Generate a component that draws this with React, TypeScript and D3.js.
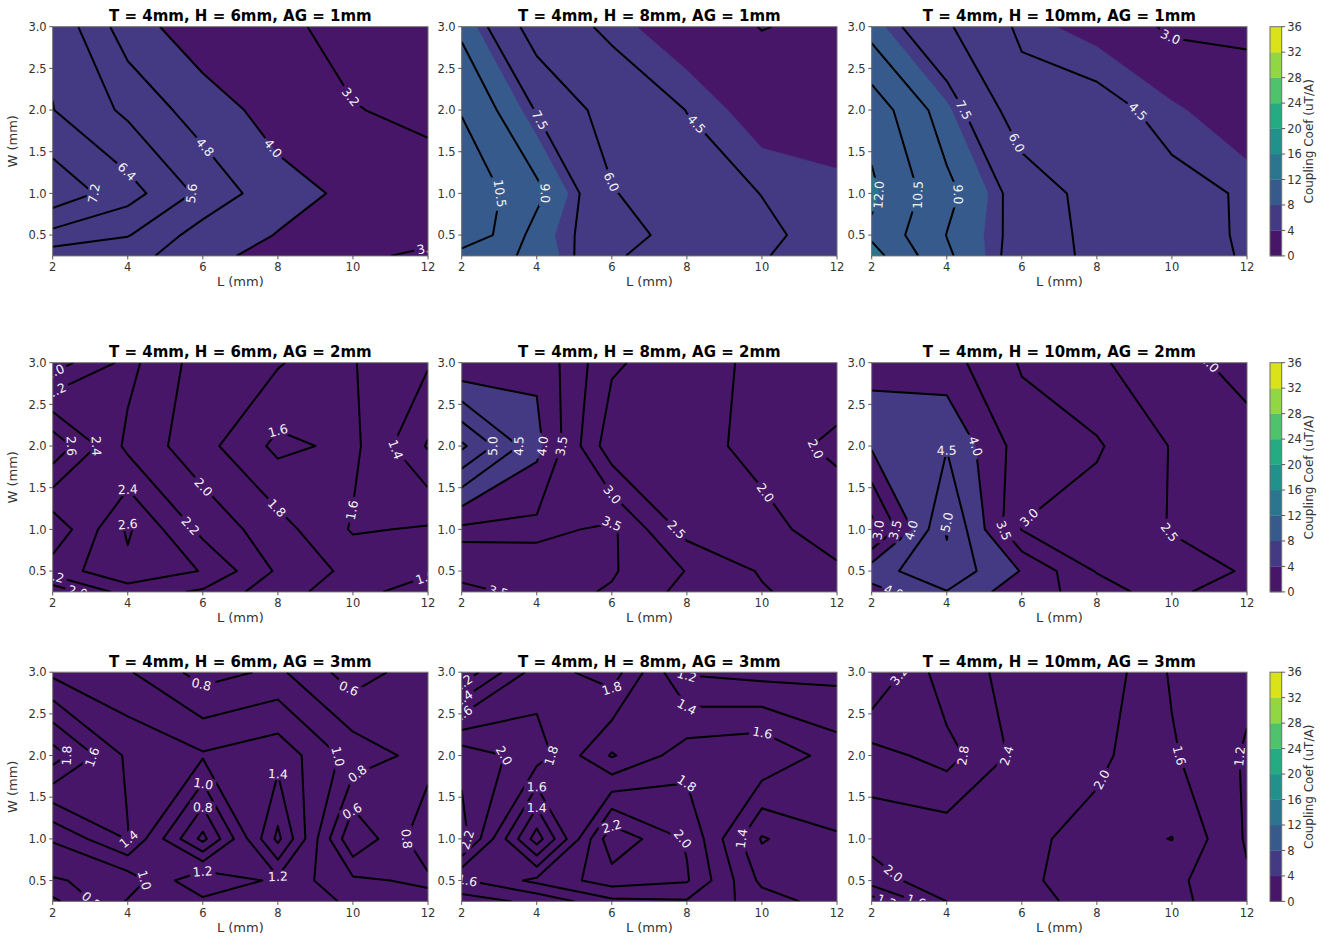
import React from "react";
import * as d3 from "d3";

// ---------------- data ----------------
const L_VALUES = [2, 4, 6, 8, 10, 12];
const W_VALUES = [0.25, 0.5, 1.0, 2.0, 3.0];
const X_TICKS = [2, 4, 6, 8, 10, 12];
const Y_TICKS = [0.5, 1.0, 1.5, 2.0, 2.5, 3.0];
const FILL_LEVELS = [0, 4, 8, 12, 16, 20, 24, 28, 32, 36];
const CB_TICKS = [0, 4, 8, 12, 16, 20, 24, 28, 32, 36];
const H_VALUES = [6, 8, 10];
const AG_VALUES = [1, 2, 3];

// grids: one row per W value (0.25, 0.5, 1, 2, 3), one column per L value (2..12)
const Z_H6_AG1 = [
  [5.17, 5.0, 4.45, 3.45, 3.3, 3.1],
  [6.15, 5.65, 4.44, 3.97, 3.6, 3.35],
  [7.77, 6.73, 5.4, 4.27, 3.85, 3.5],
  [6.42, 5.43, 4.38, 3.69, 3.23, 3.05],
  [6.24, 4.36, 3.52, 3.35, 2.97, 2.75],
];
const Z_H8_AG1 = [
  [9.68, 8.75, 6.25, 4.9, 4.55, 4.1],
  [11.95, 8.46, 6.56, 5.48, 4.7, 4.1],
  [11.68, 9.37, 6.1, 5.0, 4.48, 4.3],
  [10.4, 7.4, 5.33, 4.48, 3.6, 3.3],
  [8.69, 5.24, 4.26, 3.48, 2.97, 3.2],
];
const Z_H10_AG1 = [
  [12.59, 9.22, 6.85, 5.65, 5.0, 4.4],
  [11.73, 8.97, 7.0, 5.52, 5.0, 4.35],
  [12.29, 9.4, 6.86, 5.43, 4.8, 4.4],
  [11.43, 8.21, 5.1, 4.9, 4.15, 3.4],
  [8.4, 6.17, 4.24, 3.72, 2.82, 2.85],
];
const Z_H6_AG2 = [
  [1.85, 2.3, 2.17, 1.87, 1.7, 1.45],
  [2.3, 2.55, 2.39, 1.97, 1.74, 1.65],
  [2.05, 2.63, 2.14, 1.88, 1.58, 1.62],
  [2.75, 2.15, 1.87, 1.55, 1.65, 1.18],
  [1.9, 2.26, 1.9, 1.82, 1.61, 1.42],
];
const Z_H8_AG2 = [
  [3.3, 3.7, 3.45, 2.84, 2.55, 2.2],
  [3.75, 3.8, 3.55, 2.98, 2.45, 2.05],
  [3.39, 3.36, 3.6, 2.32, 2.1, 1.85],
  [5.6, 4.15, 2.18, 2.12, 1.9, 2.05],
  [3.55, 3.9, 2.58, 2.18, 1.9, 1.85],
];
const Z_H10_AG2 = [
  [3.8, 4.48, 3.68, 3.33, 2.61, 2.2],
  [4.3, 4.85, 3.97, 2.96, 2.65, 2.47],
  [2.78, 5.05, 2.98, 2.75, 2.48, 2.3],
  [4.06, 4.47, 3.25, 3.06, 2.47, 2.2],
  [3.97, 3.7, 2.95, 2.57, 2.19, 1.81],
];
const Z_H6_AG3 = [
  [0.55, 1.02, 1.15, 1.08, 0.98, 0.87],
  [0.78, 0.88, 1.39, 1.15, 0.84, 0.76],
  [1.02, 1.41, 0.54, 1.65, 0.42, 0.95],
  [1.9, 1.36, 1.225, 1.33, 0.92, 0.72],
  [1.15, 1.02, 0.72, 0.84, 0.5, 0.72],
];
const Z_H8_AG3 = [
  [1.3, 1.45, 1.75, 1.78, 1.5, 1.3],
  [1.58, 1.85, 2.1, 2.02, 1.35, 1.3],
  [2.3, 1.1, 2.35, 1.98, 1.18, 1.39],
  [2.13, 1.9, 1.38, 1.71, 1.78, 1.5],
  [1.05, 1.7, 1.9, 1.18, 1.13, 1.14],
];
const Z_H10_AG3 = [
  [1.0, 2.0, 2.1, 1.9, 1.72, 1.3],
  [1.79, 2.3, 2.1, 1.75, 1.7, 1.25],
  [2.15, 2.15, 2.1, 1.85, 2.01, 1.15],
  [2.65, 2.95, 2.26, 2.1, 1.65, 1.15],
  [3.65, 2.53, 2.3, 2.3, 1.55, 1.3],
];

// contour line levels
const LV_H6_AG1 = [2.4, 3.2, 4.0, 4.8, 5.6, 6.4, 7.2, 8.0];
const LV_H8_AG1 = [3.0, 4.5, 6.0, 7.5, 9.0, 10.5, 12.0];
const LV_H10_AG1 = [3.0, 4.5, 6.0, 7.5, 9.0, 10.5, 12.0];
const LV_H6_AG2 = [1.2, 1.4, 1.6, 1.8, 2.0, 2.2, 2.4, 2.6];
const LV_H8_AG2 = [2.0, 2.5, 3.0, 3.5, 4.0, 4.5, 5.0, 5.5];
const LV_H10_AG2 = [2.0, 2.5, 3.0, 3.5, 4.0, 4.5, 5.0];
const LV_H6_AG3 = [0.6, 0.8, 1.0, 1.2, 1.4, 1.6, 1.8];
const LV_H8_AG3 = [1.2, 1.4, 1.6, 1.8, 2.0, 2.2, 2.4, 2.6];
const LV_H10_AG3 = [1.2, 1.6, 2.0, 2.4, 2.8, 3.2];

// inline contour labels: [level, L, W] (approximate anchor, snapped onto the line)
const LB_H6_AG1 = [[7.2, 3.1, 1.0], [6.4, 4.05, 1.3], [5.6, 5.7, 1.0], [4.8, 6.05, 1.55], [4.0, 8.05, 1.6], [3.2, 10.1, 2.2], [3.2, 11.95, 0.38]];
const LB_H8_AG1 = [[10.5, 3.02, 1.0], [9.0, 4.22, 1.0], [7.5, 4.0, 1.86], [6.0, 6.0, 1.14], [4.5, 8.05, 1.75]];
const LB_H10_AG1 = [[12.0, 2.2, 0.98], [10.5, 3.24, 0.98], [9.0, 4.36, 0.98], [7.5, 4.53, 2.02], [6.0, 6.0, 1.64], [4.5, 9.2, 2.02], [3.0, 10.0, 2.9]];
const LB_H6_AG2 = [[2.0, 2.08, 2.86], [2.2, 2.08, 2.68], [2.6, 2.55, 2.0], [2.4, 3.25, 2.0], [2.4, 4.0, 1.52], [2.6, 4.0, 1.12], [2.0, 6.0, 1.5], [2.2, 5.74, 1.07], [1.8, 8.1, 1.31], [1.6, 8.0, 2.2], [1.6, 10.0, 1.23], [1.4, 11.25, 2.0], [2.2, 2.05, 0.45], [2.0, 2.8, 0.27], [1.6, 11.9, 0.47]];
const LB_H8_AG2 = [[5.0, 2.89, 2.0], [4.5, 3.64, 2.0], [4.0, 4.22, 1.99], [3.5, 4.71, 2.0], [3.5, 6.0, 1.07], [3.5, 3.0, 0.29], [3.0, 6.0, 1.41], [2.5, 7.73, 1.0], [2.0, 10.0, 1.41], [2.0, 11.5, 2.0]];
const LB_H10_AG2 = [[4.5, 4.0, 2.07], [4.0, 4.8, 2.0], [5.0, 4.0, 1.2], [3.0, 2.2, 0.98], [3.5, 2.65, 0.98], [4.0, 3.07, 0.98], [3.5, 5.56, 1.0], [3.0, 6.0, 1.25], [2.5, 10.0, 1.0], [2.0, 11.0, 2.99], [4.0, 2.76, 0.28]];
const LB_H6_AG3 = [[0.8, 6.0, 2.88], [0.6, 10.0, 2.86], [1.8, 2.42, 1.98], [1.6, 3.05, 1.98], [1.0, 9.6, 1.99], [0.8, 10.15, 1.75], [1.0, 6.0, 1.66], [1.4, 8.0, 1.78], [0.8, 6.0, 1.38], [0.6, 10.0, 1.33], [1.4, 4.2, 1.0], [0.8, 11.3, 0.99], [1.0, 4.46, 0.52], [1.2, 6.0, 0.6], [1.2, 8.0, 0.55], [0.8, 3.1, 0.3]];
const LB_H8_AG3 = [[1.8, 6.0, 2.8], [1.2, 8.0, 2.96], [1.4, 8.0, 2.58], [1.6, 10.04, 2.3], [2.0, 3.33, 2.03], [1.8, 4.4, 2.0], [1.6, 4.0, 1.63], [1.4, 4.0, 1.38], [1.8, 8.0, 1.69], [2.2, 6.0, 1.15], [2.0, 7.95, 1.04], [1.4, 9.47, 1.0], [2.2, 2.12, 1.0], [1.6, 2.15, 0.5], [1.2, 2.05, 2.86], [1.4, 2.05, 2.68], [1.6, 2.05, 2.49]];
const LB_H10_AG3 = [[3.2, 2.75, 2.95], [2.8, 4.49, 1.99], [2.4, 5.65, 1.99], [2.0, 7.96, 1.75], [1.6, 10.2, 2.0], [1.2, 11.78, 1.99], [2.0, 2.44, 0.51], [1.2, 2.6, 0.27], [1.6, 3.2, 0.27]];

const PANELS = [
  { z: Z_H6_AG1, levels: LV_H6_AG1, labels: LB_H6_AG1 },
  { z: Z_H8_AG1, levels: LV_H8_AG1, labels: LB_H8_AG1 },
  { z: Z_H10_AG1, levels: LV_H10_AG1, labels: LB_H10_AG1 },
  { z: Z_H6_AG2, levels: LV_H6_AG2, labels: LB_H6_AG2 },
  { z: Z_H8_AG2, levels: LV_H8_AG2, labels: LB_H8_AG2 },
  { z: Z_H10_AG2, levels: LV_H10_AG2, labels: LB_H10_AG2 },
  { z: Z_H6_AG3, levels: LV_H6_AG3, labels: LB_H6_AG3 },
  { z: Z_H8_AG3, levels: LV_H8_AG3, labels: LB_H8_AG3 },
  { z: Z_H10_AG3, levels: LV_H10_AG3, labels: LB_H10_AG3 },
];

// ---------------- layout ----------------
const COL_X = [52.7, 461.7, 871.7];
const ROW_Y = [26.7, 362.7, 672.2];
const PW = 375.3;
const PH = 229.2;
const CB_X = 1270;
const CB_W = 11.7;
const FONT = "DejaVu Sans, Verdana, sans-serif";
const TICK_COLOR = "#333";
const SPINE = "#6f6f6f";
const LABEL_FS = 12.5;
const TICK_FS = 11.5;

function interp(arr, idx) {
  const i = Math.max(0, Math.min(arr.length - 2, Math.floor(idx)));
  return arr[i] + (arr[i + 1] - arr[i]) * (idx - i);
}

function textWidth(s, fs) {
  let w = 0;
  for (const ch of s) w += ch === "." ? 0.318 : 0.636;
  return w * fs;
}

// marching squares on the coarse grid (linear interpolation on edges,
// saddles resolved with the cell-centre average), returns chains in data space
function contourLines(z, level) {
  const nx = L_VALUES.length;
  const ny = W_VALUES.length;
  const pts = new Map();
  const adj = new Map();
  const hKey = (i, j) => `h${i},${j}`;
  const vKey = (i, j) => `v${i},${j}`;
  const hPt = (i, j) => {
    const a = z[j][i];
    const b = z[j][i + 1];
    const t = (level - a) / (b - a);
    return [L_VALUES[i] + t * (L_VALUES[i + 1] - L_VALUES[i]), W_VALUES[j]];
  };
  const vPt = (i, j) => {
    const a = z[j][i];
    const b = z[j + 1][i];
    const t = (level - a) / (b - a);
    return [L_VALUES[i], W_VALUES[j] + t * (W_VALUES[j + 1] - W_VALUES[j])];
  };
  const link = (a, b) => {
    if (!adj.has(a.k)) adj.set(a.k, []);
    if (!adj.has(b.k)) adj.set(b.k, []);
    adj.get(a.k).push(b.k);
    adj.get(b.k).push(a.k);
    pts.set(a.k, a.p);
    pts.set(b.k, b.p);
  };
  const up = (v) => v >= level;
  for (let j = 0; j < ny - 1; j++) {
    for (let i = 0; i < nx - 1; i++) {
      const z00 = z[j][i];
      const z10 = z[j][i + 1];
      const z01 = z[j + 1][i];
      const z11 = z[j + 1][i + 1];
      const B = up(z00) !== up(z10) ? { k: hKey(i, j), p: hPt(i, j) } : null;
      const R = up(z10) !== up(z11) ? { k: vKey(i + 1, j), p: vPt(i + 1, j) } : null;
      const T = up(z01) !== up(z11) ? { k: hKey(i, j + 1), p: hPt(i, j + 1) } : null;
      const Lf = up(z00) !== up(z01) ? { k: vKey(i, j), p: vPt(i, j) } : null;
      const list = [B, R, T, Lf].filter(Boolean);
      if (list.length === 2) {
        link(list[0], list[1]);
      } else if (list.length === 4) {
        const centerUp = up((z00 + z10 + z01 + z11) / 4);
        if (up(z00) !== centerUp) {
          link(B, Lf);
          link(R, T);
        } else {
          link(B, R);
          link(T, Lf);
        }
      }
    }
  }
  const visited = new Set();
  const chains = [];
  const walk = (start) => {
    const chain = [start];
    visited.add(start);
    let cur = start;
    for (;;) {
      const nb = adj.get(cur).filter((k) => !visited.has(k));
      if (!nb.length) break;
      cur = nb[0];
      visited.add(cur);
      chain.push(cur);
    }
    return chain.map((k) => pts.get(k));
  };
  for (const k of adj.keys()) {
    if (adj.get(k).length === 1 && !visited.has(k)) chains.push({ pts: walk(k), closed: false });
  }
  for (const k of adj.keys()) {
    if (!visited.has(k)) chains.push({ pts: walk(k), closed: true });
  }
  return chains;
}

// point at arc length s on a polyline (with cumulative lengths)
function pointAt(P, cum, s) {
  const total = cum[cum.length - 1];
  s = Math.max(0, Math.min(total, s));
  let i = 0;
  while (i < cum.length - 2 && cum[i + 1] < s) i++;
  const seg = cum[i + 1] - cum[i];
  const u = seg > 0 ? (s - cum[i]) / seg : 0;
  return { x: P[i].x + u * (P[i + 1].x - P[i].x), y: P[i].y + u * (P[i + 1].y - P[i].y) };
}

function Panel({ p, idx }) {
  const col = idx % 3;
  const row = Math.floor(idx / 3);
  const x0 = COL_X[col];
  const y0 = ROW_Y[row];
  const xs = d3.scaleLinear().domain([2, 12]).range([x0, x0 + PW]);
  const ys = d3.scaleLinear().domain([0.25, 3]).range([y0 + PH, y0]);
  const nx = L_VALUES.length;
  const ny = W_VALUES.length;
  const flat = p.z.flat();
  const gen = d3.contours().size([nx, ny]).smooth(true);

  const mapPt = (pt) => {
    const ix = Math.max(0, Math.min(nx - 1, pt[0] - 0.5));
    const iy = Math.max(0, Math.min(ny - 1, pt[1] - 0.5));
    return [xs(interp(L_VALUES, ix)), ys(interp(W_VALUES, iy))];
  };

  const fills = [];
  for (let k = 0; k < FILL_LEVELS.length - 1; k++) {
    const t = FILL_LEVELS[k];
    const geo = gen.contour(flat, t);
    let d = "";
    for (const poly of geo.coordinates) {
      for (const ring of poly) {
        const q = ring.map(mapPt);
        if (q.length < 3) continue;
        d += "M" + q.map((v) => v[0].toFixed(2) + "," + v[1].toFixed(2)).join("L") + "Z";
      }
    }
    if (d) {
      const mid = (FILL_LEVELS[k] + FILL_LEVELS[k + 1]) / 2;
      fills.push({ d, color: d3.interpolateViridis(mid / 36) });
    }
  }

  const lineSets = p.levels.map((level) => {
    const chains = contourLines(p.z, level).map((c) => ({
      closed: c.closed,
      pts: c.pts.map(([L, W]) => ({ x: xs(L), y: ys(W) })),
    }));
    return { level, polylines: chains };
  });

  const labels = [];
  for (const [level, L, W] of p.labels) {
    const set = lineSets.find((s) => Math.abs(s.level - level) < 1e-9);
    if (!set) continue;
    const text = level.toFixed(1);
    const w = textWidth(text, LABEL_FS);
    const tx = xs(L);
    const ty = ys(W);
    let best = null;
    for (const pl of set.polylines) {
      const P = pl.closed ? pl.pts.concat([pl.pts[0]]) : pl.pts;
      const cum = [0];
      for (let i = 0; i < P.length - 1; i++) {
        cum.push(cum[i] + Math.hypot(P[i + 1].x - P[i].x, P[i + 1].y - P[i].y));
      }
      for (let i = 0; i < P.length - 1; i++) {
        const a = P[i];
        const b = P[i + 1];
        const dx = b.x - a.x;
        const dy = b.y - a.y;
        const len2 = dx * dx + dy * dy;
        if (len2 < 1e-9) continue;
        let u = ((tx - a.x) * dx + (ty - a.y) * dy) / len2;
        u = Math.max(0, Math.min(1, u));
        const px = a.x + u * dx;
        const py = a.y + u * dy;
        const dd = (px - tx) ** 2 + (py - ty) ** 2;
        if (!best || dd < best.dd) {
          best = { dd, x: px, y: py, s: cum[i] + u * Math.sqrt(len2), P, cum, closed: pl.closed, segAng: Math.atan2(dy, dx) };
        }
      }
    }
    if (!best || best.dd > 45 * 45) continue;
    const total = best.cum[best.cum.length - 1];
    let ang = best.segAng;
    const half = w / 2 + 2;
    if (!(best.closed && total < w * 1.6)) {
      let s1 = best.s - half;
      let s2 = best.s + half;
      let a;
      let b;
      if (best.closed) {
        const wrap = (s) => ((s % total) + total) % total;
        a = pointAt(best.P, best.cum, wrap(s1));
        b = pointAt(best.P, best.cum, wrap(s2));
      } else {
        a = pointAt(best.P, best.cum, s1);
        b = pointAt(best.P, best.cum, s2);
      }
      if (Math.hypot(b.x - a.x, b.y - a.y) > 2) ang = Math.atan2(b.y - a.y, b.x - a.x);
    } else {
      ang = 0;
    }
    let deg = (ang * 180) / Math.PI;
    if (deg > 90) deg -= 180;
    if (deg < -90) deg += 180;
    labels.push({ x: best.x, y: best.y, deg, text, w });
  }

  const clipId = `clip-${idx}`;
  const maskId = `mask-${idx}`;
  const lineGen = d3.line().x((q) => q.x).y((q) => q.y);

  return (
    <g>
      <defs>
        <clipPath id={clipId}>
          <rect x={x0} y={y0} width={PW} height={PH} />
        </clipPath>
        <mask id={maskId} maskUnits="userSpaceOnUse" x={x0 - 5} y={y0 - 5} width={PW + 10} height={PH + 10}>
          <rect x={x0 - 5} y={y0 - 5} width={PW + 10} height={PH + 10} fill="white" />
          {labels.map((lb, i) => (
            <rect
              key={i}
              x={lb.x - lb.w / 2 - 3}
              y={lb.y - 6.5}
              width={lb.w + 6}
              height={13}
              fill="black"
              transform={`rotate(${lb.deg},${lb.x},${lb.y})`}
            />
          ))}
        </mask>
      </defs>
      <g clipPath={`url(#${clipId})`}>
        {fills.map((f, i) => (
          <path key={i} d={f.d} fill={f.color} stroke={f.color} strokeWidth={0.4} fillRule="evenodd" />
        ))}
        <g mask={`url(#${maskId})`}>
          {lineSets.map((s, i) =>
            s.polylines.map((pl, j) => (
              <path
                key={i + "-" + j}
                d={lineGen(pl.pts) + (pl.closed ? "Z" : "")}
                fill="none"
                stroke="#000"
                strokeWidth={2}
                strokeLinejoin="round"
                strokeLinecap="butt"
              />
            ))
          )}
        </g>
        {labels.map((lb, i) => (
          <text
            key={i}
            x={lb.x}
            y={lb.y}
            dy="0.36em"
            textAnchor="middle"
            fontSize={LABEL_FS}
            fill="#f2f2f2"
            fontFamily={FONT}
            transform={`rotate(${lb.deg},${lb.x},${lb.y})`}
          >
            {lb.text}
          </text>
        ))}
      </g>
      <rect x={x0} y={y0} width={PW} height={PH} fill="none" stroke={SPINE} strokeWidth={1} />
      {X_TICKS.map((t) => (
        <g key={"x" + t}>
          <line x1={xs(t)} x2={xs(t)} y1={y0 + PH} y2={y0 + PH + 3.5} stroke={TICK_COLOR} strokeWidth={0.8} />
          <text x={xs(t)} y={y0 + PH + 15.5} textAnchor="middle" fontSize={TICK_FS} fill={TICK_COLOR} fontFamily={FONT}>
            {t}
          </text>
        </g>
      ))}
      <text x={x0 + PW / 2} y={y0 + PH + 30.5} textAnchor="middle" fontSize={13} fill={TICK_COLOR} fontFamily={FONT}>
        L (mm)
      </text>
      {Y_TICKS.map((t) => (
        <g key={"y" + t}>
          <line x1={x0 - 3.5} x2={x0} y1={ys(t)} y2={ys(t)} stroke={TICK_COLOR} strokeWidth={0.8} />
          <text x={x0 - 6} y={ys(t)} dy="0.36em" textAnchor="end" fontSize={TICK_FS} fill={TICK_COLOR} fontFamily={FONT}>
            {t.toFixed(1)}
          </text>
        </g>
      ))}
      {col === 0 && (
        <text
          transform={`translate(${x0 - 36},${y0 + PH / 2}) rotate(-90)`}
          textAnchor="middle"
          fontSize={13}
          fill={TICK_COLOR}
          fontFamily={FONT}
        >
          W (mm)
        </text>
      )}
      <text x={x0 + PW / 2} y={y0 - 5.5} textAnchor="middle" fontSize={15} fontWeight="bold" fill="#000" fontFamily={FONT}>
        {`T = 4mm, H = ${H_VALUES[col]}mm, AG = ${AG_VALUES[row]}mm`}
      </text>
    </g>
  );
}

function Colorbar({ row }) {
  const y0 = ROW_Y[row];
  const cs = d3.scaleLinear().domain([0, 36]).range([y0 + PH, y0]);
  const bands = [];
  for (let k = 0; k < FILL_LEVELS.length - 1; k++) {
    const a = FILL_LEVELS[k];
    const b = FILL_LEVELS[k + 1];
    bands.push({ y: cs(b), h: cs(a) - cs(b), color: d3.interpolateViridis((a + b) / 2 / 36) });
  }
  return (
    <g>
      {bands.map((bd, i) => (
        <rect key={i} x={CB_X} y={bd.y} width={CB_W} height={bd.h + 0.3} fill={bd.color} />
      ))}
      <rect x={CB_X} y={y0} width={CB_W} height={PH} fill="none" stroke={SPINE} strokeWidth={1} />
      {CB_TICKS.map((t) => (
        <g key={t}>
          <line x1={CB_X + CB_W} x2={CB_X + CB_W + 3.5} y1={cs(t)} y2={cs(t)} stroke={TICK_COLOR} strokeWidth={0.8} />
          <text x={CB_X + CB_W + 5.5} y={cs(t)} dy="0.36em" fontSize={TICK_FS} fill={TICK_COLOR} fontFamily={FONT}>
            {t}
          </text>
        </g>
      ))}
      <text
        transform={`translate(${1313},${y0 + PH / 2}) rotate(-90)`}
        textAnchor="middle"
        fontSize={12}
        fill={TICK_COLOR}
        fontFamily={FONT}
      >
        Coupling Coef (uT/A)
      </text>
    </g>
  );
}

export default function App() {
  return (
    <svg
      width={1331}
      height={939}
      viewBox="0 0 1331 939"
      style={{ position: "absolute", left: 0, top: 0, background: "#fff" }}
    >
      <rect x={0} y={0} width={1331} height={939} fill="#fff" />
      {PANELS.map((p, i) => (
        <Panel key={i} p={p} idx={i} />
      ))}
      {[0, 1, 2].map((r) => (
        <Colorbar key={r} row={r} />
      ))}
    </svg>
  );
}
